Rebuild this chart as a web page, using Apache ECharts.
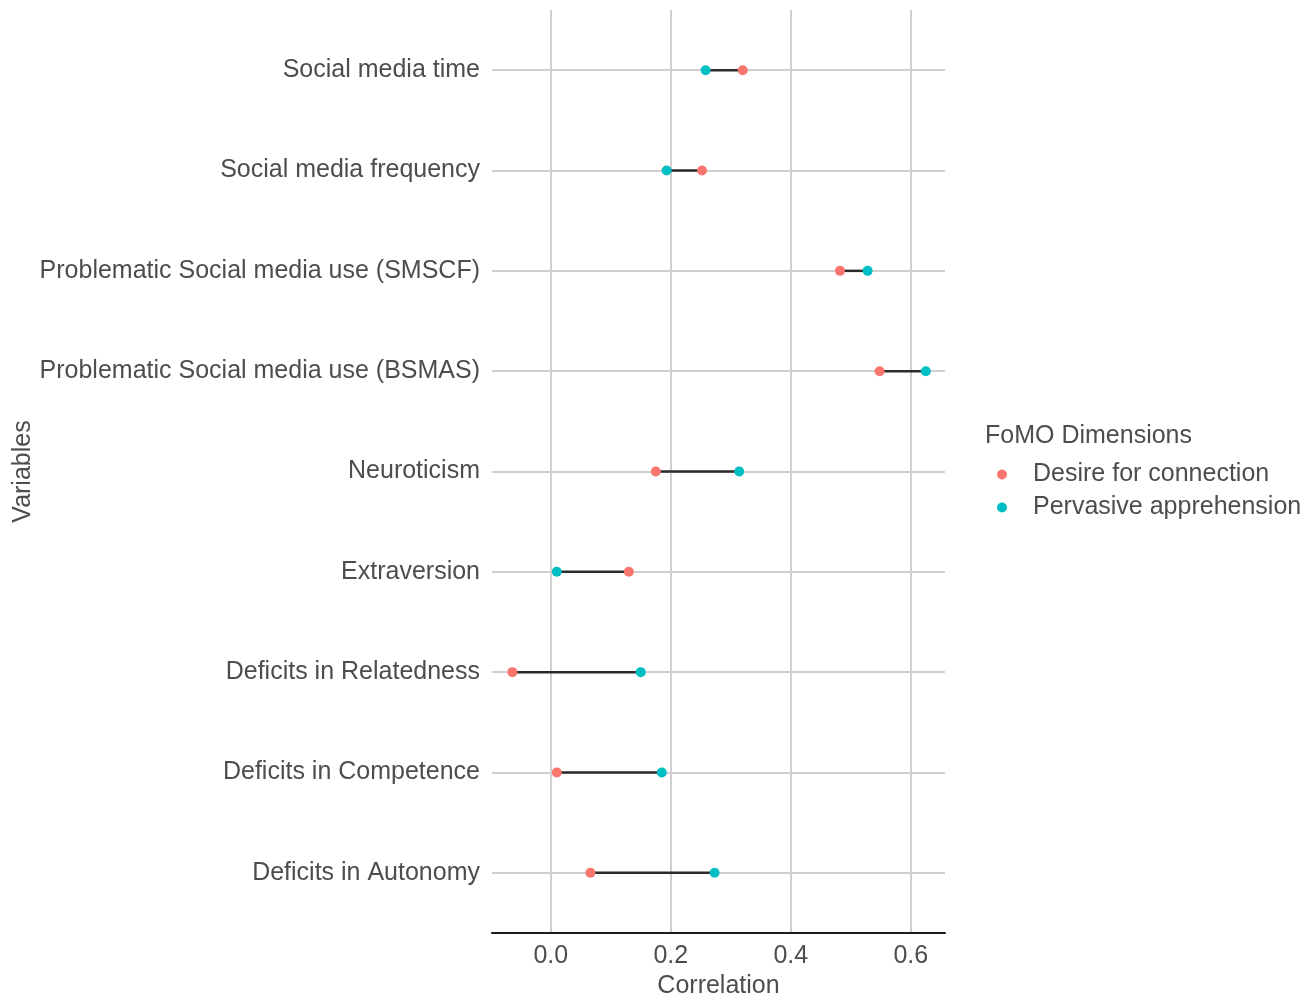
<!DOCTYPE html>
<html>
<head>
<meta charset="utf-8">
<script src="https://cdn.jsdelivr.net/npm/echarts@6/dist/echarts.min.js"></script>
<style>html,body{margin:0;padding:0;background:#fff}#c{width:1312px;height:993px}</style>
</head>
<body>
<div id="c"></div>
<script>
// Categories listed top to bottom
const categories = [
  "Social media time",
  "Social media frequency",
  "Problematic Social media use (SMSCF)",
  "Problematic Social media use (BSMAS)",
  "Neuroticism",
  "Extraversion",
  "Deficits in Relatedness",
  "Deficits in Competence",
  "Deficits in Autonomy"
];
const desireForConnection = [0.320, 0.252, 0.482, 0.548, 0.175, 0.130, -0.064, 0.010, 0.066];
const pervasiveApprehension = [0.258, 0.193, 0.528, 0.625, 0.314, 0.010, 0.150, 0.185, 0.273];
const xTicks = [0.0, 0.2, 0.4, 0.6];
const seriesNames = ["Desire for connection", "Pervasive apprehension"];

const n = categories.length;
const yPos = categories.map((_, i) => n - i);
const FONT = "'Liberation Sans', Arial, Helvetica, sans-serif";
const TXT = "#4d4d4d";
const FS = 25;

const chart = echarts.init(document.getElementById('c'), null, {renderer: 'canvas'});
chart.setOption({
  animation: false,
  backgroundColor: '#ffffff',
  textStyle: {fontFamily: FONT},
  title: {
    text: "FoMO Dimensions",
    left: 985, top: 424, padding: 0,
    textStyle: {fontFamily: FONT, fontSize: FS, fontWeight: 'normal', color: TXT}
  },
  legend: {
    orient: 'vertical',
    left: 997, top: 462, padding: 0,
    itemGap: 8,
    itemWidth: 10, itemHeight: 10,
    icon: 'circle',
    data: seriesNames,
    textStyle: {fontFamily: FONT, fontSize: FS, color: TXT, padding: [0, 0, 0, 21]}
  },
  grid: {left: 492, right: 367, top: 10, bottom: 60, containLabel: false, outerBoundsMode: 'none'},
  xAxis: {
    type: 'value',
    min: -0.098, max: 0.657,
    name: 'Correlation',
    nameLocation: 'middle',
    nameGap: 35,
    nameTextStyle: {fontFamily: FONT, fontSize: FS, color: TXT},
    axisLine: {show: true, lineStyle: {color: '#1a1a1a', width: 2}},
    axisTick: {show: false, customValues: xTicks},
    axisLabel: {customValues: xTicks, fontFamily: FONT, fontSize: FS, color: TXT, margin: 11,
      formatter: v => v.toFixed(1)},
    splitLine: {show: true, lineStyle: {color: '#cfcfcf', width: 2}}
  },
  yAxis: {
    type: 'value',
    min: 0.4, max: n + 0.6,
    name: 'Variables',
    nameLocation: 'middle',
    nameGap: 456,
    nameRotate: 90,
    nameTextStyle: {fontFamily: FONT, fontSize: FS, color: TXT},
    axisLine: {show: false},
    axisTick: {show: false, customValues: yPos},
    axisLabel: {customValues: yPos, fontFamily: FONT, fontSize: FS, color: TXT, margin: 12,
      formatter: v => categories[n - Math.round(v)]},
    splitLine: {show: true, lineStyle: {color: '#cfcfcf', width: 2}}
  },
  series: [
    {
      type: 'custom',
      silent: true,
      z: 3,
      data: categories.map((c, i) => [desireForConnection[i], pervasiveApprehension[i], yPos[i]]),
      renderItem: (params, api) => {
        const p1 = api.coord([api.value(0), api.value(2)]);
        const p2 = api.coord([api.value(1), api.value(2)]);
        return {type: 'line', shape: {x1: p1[0], y1: p1[1], x2: p2[0], y2: p2[1]},
          style: {stroke: '#2b2b2b', lineWidth: 2.5}};
      },
      encode: {x: [0, 1], y: 2}
    },
    {
      name: seriesNames[0], type: 'scatter', z: 5,
      symbol: 'circle', symbolSize: 10,
      itemStyle: {color: '#F8766D', opacity: 1},
      data: categories.map((c, i) => [desireForConnection[i], yPos[i]])
    },
    {
      name: seriesNames[1], type: 'scatter', z: 5,
      symbol: 'circle', symbolSize: 10,
      itemStyle: {color: '#00BFC4', opacity: 1},
      data: categories.map((c, i) => [pervasiveApprehension[i], yPos[i]])
    }
  ]
});
</script>
</body>
</html>
